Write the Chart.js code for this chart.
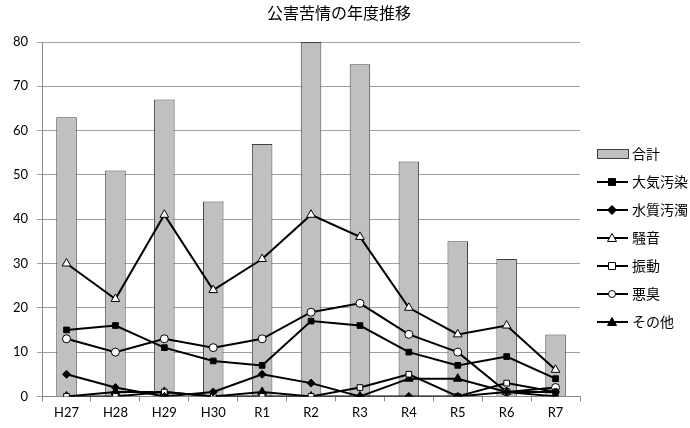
<!DOCTYPE html>
<html>
<head>
<meta charset="utf-8">
<script src="https://cdn.jsdelivr.net/npm/chart.js@4"></script>
<style>
html,body{margin:0;padding:0;background:#fff;}
#wrap{width:690px;height:428px;position:relative;}
</style>
</head>
<body>
<div id="wrap"><canvas id="c"></canvas></div>
<script>
const categories = ['H27','H28','H29','H30','R1','R2','R3','R4','R5','R6','R7'];
const total   = [63,51,67,44,57,80,75,53,35,31,14];
const air     = [15,16,11,8,7,17,16,10,7,9,4];
const water   = [5,2,0,1,5,3,0,0,0,1,1];
const noise   = [30,22,41,24,31,41,36,20,14,16,6];
const vibration = [0,0,1,0,0,0,2,5,0,3,1];
const odor    = [13,10,13,11,13,19,21,14,10,1,2];
const other   = [0,1,1,0,1,0,0,4,4,1,0];
const seriesNames = ['合計','大気汚染','水質汚濁','騒音','振動','悪臭','その他'];
const yTicks = [0,10,20,30,40,50,60,70,80];
const chartTitle = '公害苦情の年度推移';

const JP = '"Noto Sans CJK JP", sans-serif';
const NUM = 'Lato, "Liberation Sans", sans-serif';

function lineDs(label, data, style, fill, r) {
  return {
    type: 'line', label: label, data: data, order: 1,
    borderColor: '#000', borderWidth: 2, fill: false, tension: 0,
    pointStyle: style, pointRadius: r, pointHoverRadius: r,
    pointBackgroundColor: fill, pointBorderColor: '#000', pointBorderWidth: 1
  };
}

const datasets = [
  { type: 'bar', label: seriesNames[0], data: total, order: 10,
    backgroundColor: '#c0c0c0', borderColor: '#404040', borderWidth: 1,
    barPercentage: 0.42, categoryPercentage: 1.0 },
  lineDs(seriesNames[1], air, 'rect', '#000', 4),
  lineDs(seriesNames[2], water, 'rectRot', '#000', 4),
  lineDs(seriesNames[3], noise, 'triangle', '#fff', 5),
  lineDs(seriesNames[4], vibration, 'rect', '#fff', 4),
  lineDs(seriesNames[5], odor, 'circle', '#fff', 4),
  lineDs(seriesNames[6], other, 'triangle', '#000', 5)
];

// title and right-hand legend (line + marker icons like the original)
const sideLegend = {
  id: 'sideLegend',
  afterDraw(chart) {
    const g = chart.ctx;
    g.save();
    g.fillStyle = '#000';
    g.font = '16px ' + JP;
    g.textAlign = 'center';
    g.textBaseline = 'middle';
    g.fillText(chartTitle, 339, 13);

    const x0 = 597, x1 = 628, cx = 612, tx = 632;
    chart.data.datasets.forEach((d, i) => {
      const y = 154 + i * 28;
      if (d.type === 'bar') {
        g.fillStyle = d.backgroundColor;
        g.fillRect(x0 + 0.5, y - 4.5, x1 - x0, 9);
        g.strokeStyle = d.borderColor; g.lineWidth = 1;
        g.strokeRect(x0 + 0.5, y - 4.5, x1 - x0, 9);
      } else {
        g.strokeStyle = '#000'; g.lineWidth = 2;
        g.beginPath(); g.moveTo(x0, y); g.lineTo(x1, y); g.stroke();
        g.lineWidth = 1;
        g.fillStyle = d.pointBackgroundColor;
        g.beginPath();
        const st = d.pointStyle;
        if (st === 'rect') { g.rect(cx - 3.5, y - 3.5, 7, 7); }
        else if (st === 'rectRot') { g.moveTo(cx, y - 4.5); g.lineTo(cx + 4.5, y); g.lineTo(cx, y + 4.5); g.lineTo(cx - 4.5, y); g.closePath(); }
        else if (st === 'triangle') { g.moveTo(cx, y - 4.5); g.lineTo(cx + 4.5, y + 3.5); g.lineTo(cx - 4.5, y + 3.5); g.closePath(); }
        else if (st === 'circle') { g.arc(cx, y, 3.5, 0, Math.PI * 2); }
        g.fill(); g.stroke();
      }
      g.fillStyle = '#000';
      g.font = '14px ' + JP;
      g.textBaseline = 'middle';
      g.textAlign = 'left';
      g.fillText(d.label, tx, y);
    });
    g.restore();
  }
};

new Chart(document.getElementById('c'), {
  data: { labels: categories, datasets: datasets },
  plugins: [sideLegend],
  options: {
    responsive: true, maintainAspectRatio: false, animation: false,
    layout: { padding: { top: 42, right: 110, bottom: 3, left: 4 } },
    plugins: {
      tooltip: { enabled: false },
      legend: { display: false },
      title: { display: false }
    },
    scales: {
      x: {
        offset: true,
        grid: { display: true, drawOnChartArea: false, offset: true, tickLength: 5, color: '#888' },
        border: { color: '#888' },
        ticks: { color: '#000', font: { family: NUM, size: 13 }, padding: 4, maxRotation: 0 }
      },
      y: {
        min: 0, max: 80,
        afterBuildTicks: (ax) => { ax.ticks = yTicks.map(v => ({ value: v })); },
        grid: { color: '#a0a0a0', tickLength: 5, lineWidth: 1 },
        border: { color: '#888' },
        ticks: { color: '#000', font: { family: NUM, size: 13 }, padding: 9 }
      }
    }
  }
});
</script>
</body>
</html>
